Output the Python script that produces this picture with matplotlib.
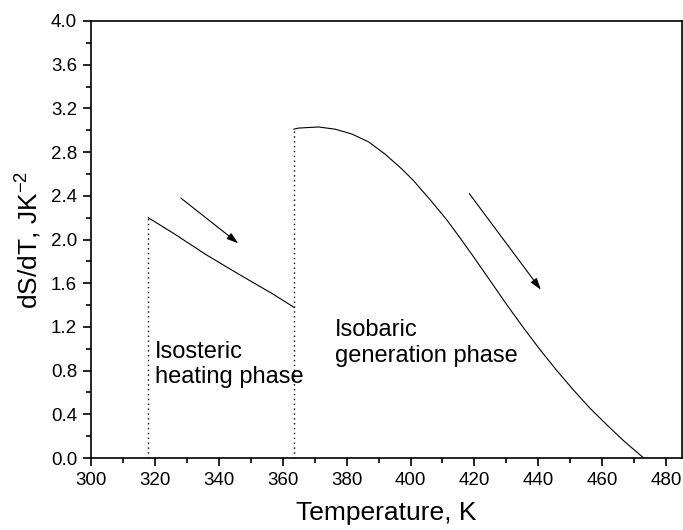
import matplotlib

matplotlib.use("Agg")

import matplotlib.pyplot as plt
from matplotlib.ticker import MultipleLocator

# isosteric heating branch
heat_T = [317.9, 325.8, 336.2, 346.7, 357.1, 363.5]
heat_dS = [2.20, 2.057, 1.858, 1.675, 1.498, 1.38]

# isobaric generation branch
gen_T = [363.5, 365.0, 371.2, 376.4, 381.6, 386.8, 392.1, 397.3, 400.9, 406.2,
         411.4, 415.6, 419.7, 425.0, 430.2, 435.4, 440.6, 445.8, 451.0, 456.2,
         461.5, 467.0, 473.0]
gen_dS = [3.01, 3.02, 3.03, 3.01, 2.966, 2.895, 2.78, 2.645, 2.54, 2.362,
          2.178, 2.011, 1.843, 1.62, 1.400, 1.19, 0.989, 0.80, 0.622, 0.455,
          0.302, 0.15, 0.0]

# arrows: (start T, start dS, end T, end dS)
arrows = [(328.1, 2.38, 346.1, 1.965), (418.4, 2.42, 440.8, 1.54)]

x_ticks = list(range(300, 481, 20))
y_ticks = [0.0, 0.4, 0.8, 1.2, 1.6, 2.0, 2.4, 2.8, 3.2, 3.6, 4.0]

plt.rcParams["font.family"] = ["Liberation Sans", "DejaVu Sans"]
plt.rcParams["mathtext.fontset"] = "custom"
plt.rcParams["mathtext.rm"] = "Liberation Sans"
plt.rcParams["mathtext.it"] = "Liberation Sans:italic"
plt.rcParams["mathtext.bf"] = "Liberation Sans:bold"

fig = plt.figure(figsize=(6.83, 5.30), dpi=100)
ax = fig.add_axes([0.1332, 0.1358, 0.8655, 0.8246])

ax.plot(heat_T, heat_dS, color="black", lw=0.8)
ax.plot(gen_T, gen_dS, color="black", lw=0.8)

dot = (0, (1, 2.5))
ax.plot([heat_T[0], heat_T[0]], [0, heat_dS[0]], color="black", lw=1.0, linestyle=dot)
ax.plot([gen_T[0], gen_T[0]], [0, gen_dS[0]], color="black", lw=1.0, linestyle=dot)

for x0, y0, x1, y1 in arrows:
    ax.annotate("", xy=(x1, y1), xytext=(x0, y0),
                arrowprops=dict(arrowstyle="-|>,head_length=0.7,head_width=0.22",
                                color="black", lw=0.8, shrinkA=0, shrinkB=0))

# va="baseline" on multi-line text aligns the last line's baseline
ax.text(320.0, 0.687, "Isosteric\nheating phase", fontsize=17, va="baseline", ha="left",
        linespacing=1.2)
ax.text(376.4, 0.881, "Isobaric\ngeneration phase", fontsize=17, va="baseline", ha="left",
        linespacing=1.2)

ax.set_xlim(300, 485)
ax.set_ylim(0, 4.0)
ax.set_xticks(x_ticks)
ax.set_yticks(y_ticks)
ax.set_yticklabels([f"{v:.1f}" for v in y_ticks])
ax.xaxis.set_minor_locator(MultipleLocator(10))
ax.yaxis.set_minor_locator(MultipleLocator(0.2))
ax.tick_params(which="major", direction="out", length=6, width=1.2, labelsize=13.5, pad=4)
ax.tick_params(which="minor", direction="out", length=3.5, width=1.2)
ax.tick_params(top=False, right=False, which="both")
for sp in ax.spines.values():
    sp.set_linewidth(1.2)

ax.set_xlabel("Temperature, K", fontsize=19, labelpad=9)
ax.set_ylabel("dS/dT, JK$^{-2}$", fontsize=19, labelpad=5)

fig.savefig("out.png", dpi=100)
